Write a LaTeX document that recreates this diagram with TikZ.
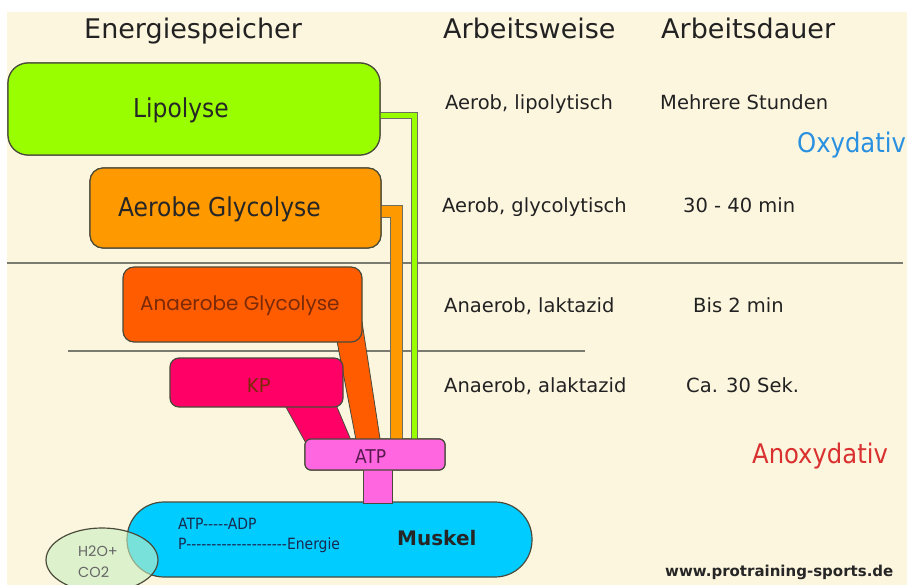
\documentclass[tikz,border=0pt]{standalone}
\usepackage{fontspec}
\setmainfont{DejaVu Sans}
\newfontfamily\condf{DejaVu Sans Condensed}
\newfontfamily\geof{Poppins}
\usetikzlibrary{shapes.geometric}
\definecolor{cream}{HTML}{FDF6DF}
\definecolor{lipgreen}{HTML}{99FF00}
\definecolor{aerorange}{HTML}{FF9900}
\definecolor{anaorange}{HTML}{FF5C00}
\definecolor{kpred}{HTML}{FF0066}
\definecolor{atppink}{HTML}{FF66E0}
\definecolor{muscyan}{HTML}{00CCFF}
\definecolor{edge}{HTML}{4A4A3A}
\definecolor{rulegrey}{HTML}{7A7A70}
\definecolor{txt}{HTML}{222222}
\definecolor{oxblue}{HTML}{2A90E0}
\definecolor{anred}{HTML}{D93030}
\definecolor{ellgreen}{HTML}{C8F0C0}
\definecolor{geotext}{HTML}{7A2A08}
\definecolor{atptext}{HTML}{5A1A50}
\definecolor{mustext}{HTML}{1A2A50}
\tikzset{
  box/.style={draw=edge, line width=1.2pt, inner sep=0pt},
  lbl/.style={inner sep=0pt, anchor=base west, text=txt},
  head/.style={lbl, font=\fontsize{27}{30}\selectfont},
  info/.style={lbl, font=\fontsize{19.5}{22}\selectfont},
  boxlbl/.style={lbl, font=\condf\fontsize{26}{28}\selectfont, text=black!85},
  geolbl/.style={lbl, font=\geof\fontsize{20}{22}\selectfont, text=geotext},
  band/.style={draw=edge, line width=0.8pt},
  rulel/.style={draw=rulegrey, line width=2pt},
}
\begin{document}
\begin{tikzpicture}[x=1pt,y=-1pt]
\useasboundingbox (0,0) rectangle (907,585);
\clip (0,0) rectangle (907,585);
\fill[white] (0,0) rectangle (907,585);
\fill[cream] (7,12) rectangle (907,585);

% headers
\node[head] (h1) at (84,39) {Energiespeicher};
\node[head] (h2) at (443,39) {Arbeitsweise};
\node[head] (h3) at (661,39) {Arbeitsdauer};

% rules
\draw[rulel] (7,263) -- (903,263);
\draw[rulel] (68,351) -- (585,351);

% ATP node (for references)
\node[box, fill=atppink, rounded corners=6pt, minimum width=140pt, minimum height=31pt] (atp) at (375,454.5) {};

% slanted bands
\draw[band, fill=anaorange] (336,336) -- (362,322) -- (381,445) -- (357,445) -- cycle;
\draw[band, fill=kpred] (282,400) -- (334,400) -- (353,445) -- (307,445) -- cycle;

% wires
\node[box, fill=lipgreen, rounded corners=20pt, minimum width=372pt, minimum height=92pt] (lip) at (194,109) {};
\node[box, fill=aerorange, rounded corners=13pt, minimum width=291pt, minimum height=80pt] (aer) at (235.5,208) {};
\draw[draw=edge!80, line width=1pt, double=lipgreen, double distance=5pt] ([yshift=-7pt,xshift=-4pt]lip.east) -| ([xshift=39pt,yshift=-2pt]atp.north);
\draw[draw=edge!80, line width=1pt, double=aerorange, double distance=11pt] ([yshift=-4pt,xshift=-4pt]aer.east) -| ([xshift=21pt,yshift=-2pt]atp.north);
% redraw boxes to cover wire ends
\node[box, fill=lipgreen, rounded corners=20pt, minimum width=372pt, minimum height=92pt] at (lip) {};
\node[box, fill=aerorange, rounded corners=13pt, minimum width=291pt, minimum height=80pt] at (aer) {};

\node[box, fill=anaorange, rounded corners=11pt, minimum width=239pt, minimum height=75pt] (ana) at (242.5,304.5) {};
\node[box, fill=kpred, rounded corners=9pt, minimum width=173pt, minimum height=49pt] (kp) at (256.5,382.5) {};

% muscle
\node[box, fill=muscyan, rounded corners=37pt, minimum width=405pt, minimum height=75pt] (mus) at (329.5,539.5) {};
% stem
\draw[draw=edge, line width=0.8pt, fill=atppink] (363,466) rectangle (392,503.5);
\node[box, fill=atppink, rounded corners=6pt, minimum width=140pt, minimum height=31pt] at (atp) {};

% ellipse
\node[ellipse, draw=edge, line width=1.2pt, fill=ellgreen, fill opacity=0.6, minimum width=112pt, minimum height=64pt] (ell) at (102,560) {};

% box labels
\node[boxlbl] at (133,118) {Lipolyse};
\node[boxlbl] at (118,217) {Aerobe Glycolyse};
\node[geolbl] at (140,310) {Anaerobe Glycolyse};
\node[geolbl] at (247,392) {KP};
\node[lbl, font=\condf\fontsize{19}{21}\selectfont, text=atptext] at (355,463) {ATP};
\node[lbl, font=\condf\fontsize{15.5}{17}\selectfont, text=mustext] at (178,529) {ATP-----ADP};
\node[lbl, font=\condf\fontsize{15.5}{17}\selectfont, text=mustext] at (178,549) {P--------------------Energie};
\node[lbl, font=\bfseries\fontsize{20}{22}\selectfont, text=black!85] at (397,545) {Muskel};
\node[lbl, font=\geof\fontsize{14.5}{16}\selectfont, text=black!60] at (78,556) {H2O+};
\node[lbl, font=\geof\fontsize{14.5}{16}\selectfont, text=black!60] at (78,577) {CO2};

% right column
\node[info] at (445,110) {Aerob, lipolytisch};
\node[info] at (660,110) {Mehrere Stunden};
\node[info] at (442,213) {Aerob, glycolytisch};
\node[info] at (683,213) {30 - 40 min};
\node[info] at (444,312) {Anaerob, laktazid};
\node[info] at (693,312) {Bis 2 min};
\node[info] at (444,392) {Anaerob, alaktazid};
\node[info] at (686,392) {Ca. 30 Sek.};
\node[lbl, font=\condf\fontsize{27}{30}\selectfont, text=oxblue] at (797,153) {Oxydativ};
\node[lbl, font=\condf\fontsize{27}{30}\selectfont, text=anred] at (752,463) {Anoxydativ};
\node[lbl, font=\bfseries\fontsize{15}{17}\selectfont, text=black!85] at (665,576) {www.protraining-sports.de};
\end{tikzpicture}
\end{document}
